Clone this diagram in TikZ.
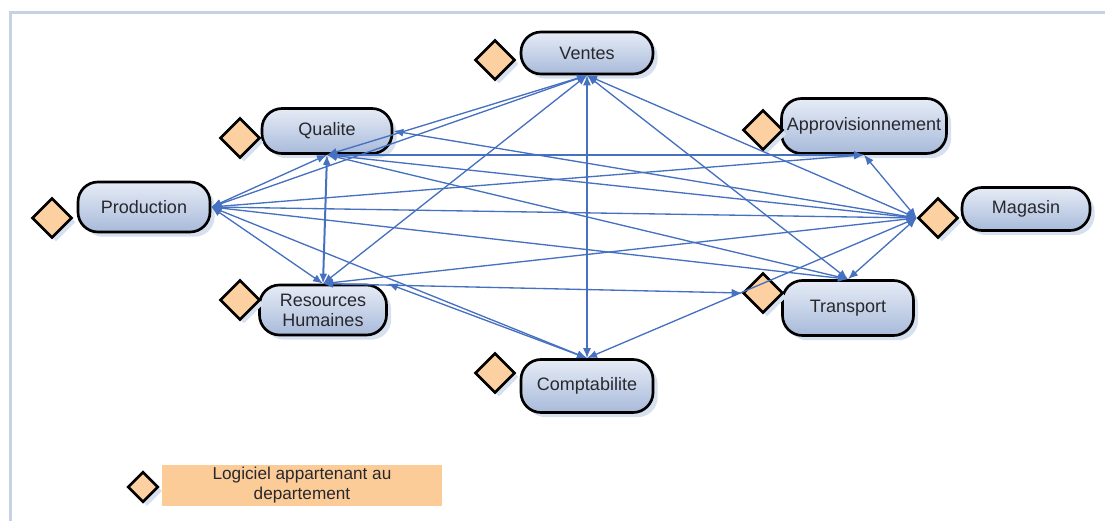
\documentclass[tikz,border=0pt]{standalone}
\usepackage{fontspec}
\setmainfont{Liberation Sans}
\usetikzlibrary{shapes.geometric,arrows.meta,shadows}
\definecolor{linkblue}{RGB}{70,112,192}
\definecolor{depttop}{RGB}{230,236,246}
\definecolor{deptbot}{RGB}{168,186,218}
\definecolor{deptext}{RGB}{40,40,45}
\definecolor{softorange}{RGB}{252,208,160}
\definecolor{legendorange}{RGB}{252,204,152}
\definecolor{shadowblue}{RGB}{214,224,238}
\definecolor{framegray}{RGB}{200,208,228}

\begin{document}
\begin{tikzpicture}[x=0.75pt,y=-0.75pt,
  dept/.style={draw=black, line width=2pt, rounded corners=15pt,
    top color=depttop, bottom color=deptbot, text=deptext, align=center,
    font=\fontsize{13.5}{15}\selectfont, inner sep=0pt,
    drop shadow={shadow xshift=3.5pt,shadow yshift=-3.5pt,fill=shadowblue,opacity=1}},
  soft/.style={diamond, draw=black, line width=2pt, fill=softorange,
    minimum size=30pt, inner sep=0pt,
    drop shadow={shadow xshift=3pt,shadow yshift=-3pt,fill=shadowblue,opacity=1}},
  link/.style={draw=linkblue, line width=1pt,
    {Latex[length=7.5pt,width=6pt]}-{Latex[length=7.5pt,width=6pt]}}]
\useasboundingbox (0,0) rectangle (1105,521);
% Frame
\draw[framegray, line width=2.25pt] (10,521) -- (10,12) -- (1105,12);
%DEPARTEMENTS
\node[dept, minimum width=99pt, minimum height=31.5pt] (V) at (587,53) {Ventes};
\node[dept, minimum width=97.5pt, minimum height=33.75pt] (Q) at (327,131) {Qualite};
\node[dept, minimum width=123.75pt, minimum height=41.25pt] (A) at (864,126) {Approvisionnement};
\node[dept, minimum width=96pt, minimum height=32.25pt] (M) at (1026,209) {Magasin};
\node[dept, minimum width=98.25pt, minimum height=41.25pt] (T) at (848,308) {Transport};
\node[dept, minimum width=99pt, minimum height=37.5pt] (P) at (144,207) {Production};
\node[dept, minimum width=95.25pt, minimum height=37.5pt] (R) at (323,310) {Resources\\Humaines};
\node[dept, minimum width=99pt, minimum height=39.75pt] (C) at (587,386) {Comptabilite};
%LOGICIELS
\node[soft] (dV) at (495,60) {};
\node[soft] (dQ) at (240,138) {};
\node[soft] (dA) at (763,130) {};
\node[soft] (dM) at (938,218) {};
\node[soft] (dT) at (763,293) {};
\node[soft] (dP) at (52,218) {};
\node[soft] (dR) at (240,300) {};
\node[soft] (dC) at (495,373) {};
%LIENS Ventes
\draw[link] (V.south) -- (Q.south);
\draw[link] (V.south) -- (P.east);
\draw[link] (V.south) -- (R.north);
\draw[link] (V.south) -- (C.north);
\draw[link] (V.south) -- (T.north);
\draw[link] (V.south) -- (dM.west);
%LIENS Qualite
\draw[link, line width=1.5pt] (Q.south) -- (R.north);
\draw[link] (Q.south) -- (P.east);
\draw[link] (Q.south) -- (A.south);
\draw[link] (Q.south) -- (dM.west);
\draw[link] (Q.south) -- (T.north);
\draw[link] (Q.east) -- (dM.west);
%LIENS Production
\draw[link] (P.east) -- (A.south);
\draw[link] (P.east) -- (dM.west);
\draw[link] (P.east) -- (T.north);
\draw[link] (P.east) -- (R.north);
\draw[link] (P.east) -- (C.north);
%LIENS Resources Humaines
\draw[link] (R.north) -- (dM.west);
\draw[link] (R.north) -- (dT.west);
\draw[link] (R.north east) -- (C.north);
%LIENS Magasin
\draw[link] (C.north) -- (dM.west);
\draw[link] (dM.west) -- (A.south);
\draw[link] (dM.west) -- (T.north);
%LEGENDE
\node[soft, minimum size=23pt] (dL) at (143,487) {};
\node[fill=legendorange, minimum width=210pt, minimum height=30.75pt,
  inner sep=0pt, align=center, text=deptext,
  font=\fontsize{12.9}{15}\selectfont] (L) at (302,485.5)
  {Logiciel appartenant au\\departement};
\end{tikzpicture}
\end{document}
